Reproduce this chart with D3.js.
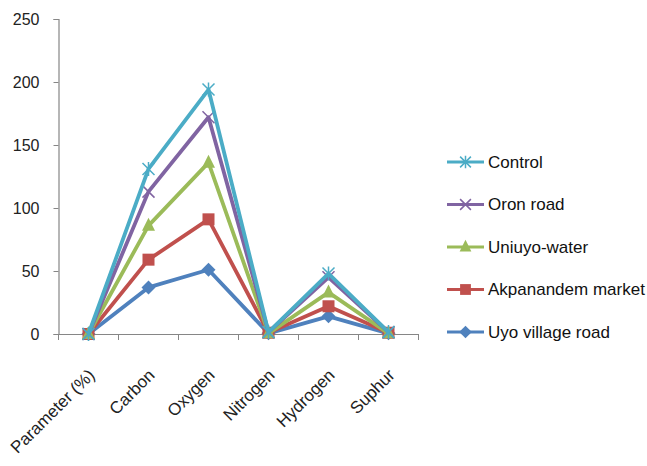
<!DOCTYPE html>
<html><head><meta charset="utf-8">
<script src="https://cdn.jsdelivr.net/npm/d3@7"></script>
<style>body{margin:0;background:#fff;} svg{display:block;font-family:"Liberation Sans",Arial,sans-serif;}</style>
</head><body>
<svg id="c" width="647" height="466"></svg>
<script>
const categories = ["Parameter (%)", "Carbon", "Oxygen", "Nitrogen", "Hydrogen", "Suphur"];
const seriesNames = ["Control", "Oron road", "Uniuyo-water", "Akpanandem market", "Uyo village road"];
const control = [0, 131, 194, 1.5, 48, 1.5];
const oronRoad = [0, 113, 172, 1.5, 45, 1.5];
const uniuyoWater = [0, 86, 136, 0.5, 33, 0.5];
const akpanandem = [0, 59, 91, 1, 22, 1];
const uyoVillage = [0, 37, 51, 0.5, 14, 0.5];
const yTicks = [0, 50, 100, 150, 200, 250];

const series = [
  {name: seriesNames[0], values: control, color: "#4BACC6", marker: "star"},
  {name: seriesNames[1], values: oronRoad, color: "#8064A2", marker: "x"},
  {name: seriesNames[2], values: uniuyoWater, color: "#9BBB59", marker: "triangle"},
  {name: seriesNames[3], values: akpanandem, color: "#C0504D", marker: "square"},
  {name: seriesNames[4], values: uyoVillage, color: "#4F81BD", marker: "diamond"}
];

const svg = d3.select("#c");
const x = d3.scaleBand().domain(categories).range([58.5, 418.5]);
const y = d3.scaleLinear().domain([0, 250]).range([334, 19]);

// y axis
const yAxis = svg.append("g").attr("transform", "translate(58.5,0)")
  .call(d3.axisLeft(y).tickValues(yTicks).tickSize(5).tickPadding(14));
yAxis.select(".domain").attr("stroke", "#868686").attr("stroke-width", 1.2);
yAxis.selectAll(".tick line").attr("stroke", "#868686");
yAxis.selectAll(".tick text").attr("font-size", 16).attr("fill", "#222")
  .attr("font-family", "'Liberation Sans',Arial,sans-serif");

// x axis
const xAxis = svg.append("g").attr("transform", "translate(0,334)")
  .call(d3.axisBottom(x).tickSize(0).tickPadding(0).tickSizeOuter(0));
xAxis.select(".domain").attr("stroke", "#868686").attr("stroke-width", 1.2);
xAxis.selectAll(".tick line").remove();
const bounds = categories.map(c => x(c)).concat([x(categories[categories.length-1]) + x.bandwidth()]);
xAxis.selectAll(".bt").data(bounds).enter().append("line")
  .attr("x1", d => d).attr("x2", d => d).attr("y1", 0).attr("y2", 6)
  .attr("stroke", "#868686").attr("stroke-width", 1);
xAxis.selectAll(".tick text")
  .attr("font-size", 17).attr("fill", "#222")
  .attr("font-family", "'Liberation Sans',Arial,sans-serif")
  .attr("text-anchor", "end")
  .attr("transform", "translate(3,38) rotate(-45)")
  .attr("dy", "0.35em");

const cx = c => x(c) + x.bandwidth() / 2;

function drawMarker(g, type, color, px, py, s) {
  s = s || 1;
  if (type === "square") {
    g.append("rect").attr("x", px - 6*s).attr("y", py - 6*s).attr("width", 12*s).attr("height", 12*s).attr("fill", color);
  } else if (type === "diamond") {
    g.append("path").attr("d", `M${px},${py-7*s}L${px+7*s},${py}L${px},${py+7*s}L${px-7*s},${py}Z`).attr("fill", color);
  } else if (type === "triangle") {
    g.append("path").attr("d", `M${px},${py-8*s}L${px+6.5*s},${py+5*s}L${px-6.5*s},${py+5*s}Z`).attr("fill", color);
  } else if (type === "x") {
    g.append("path").attr("d", `M${px-6*s},${py-6*s}L${px+6*s},${py+6*s}M${px+6*s},${py-6*s}L${px-6*s},${py+6*s}`)
      .attr("stroke", color).attr("stroke-width", 1.5).attr("fill", "none");
  } else if (type === "star") {
    g.append("path").attr("d", `M${px-6*s},${py-6*s}L${px+6*s},${py+6*s}M${px+6*s},${py-6*s}L${px-6*s},${py+6*s}M${px},${py-7*s}L${px},${py+7*s}`)
      .attr("stroke", color).attr("stroke-width", 1.5).attr("fill", "none");
  }
}

const line = d3.line().x((d, i) => cx(categories[i])).y(d => y(d));
const order = series.slice().reverse();
order.forEach(s => {
  const g = svg.append("g");
  g.append("path").datum(s.values).attr("d", line).attr("fill", "none")
    .attr("stroke", s.color).attr("stroke-width", 3.8).attr("stroke-linejoin", "round");
  s.values.forEach((v, i) => drawMarker(g, s.marker, s.color, cx(categories[i]), y(v), 1));
});

// legend
const leg = svg.append("g");
series.forEach((s, i) => {
  const ly = 162 + i * 42.5;
  const g = leg.append("g");
  g.append("line").attr("x1", 447).attr("x2", 484).attr("y1", ly).attr("y2", ly)
    .attr("stroke", s.color).attr("stroke-width", 3);
  drawMarker(g, s.marker, s.color, 465.5, ly, 0.9);
  g.append("text").attr("x", 488).attr("y", ly).attr("dy", "0.35em")
    .attr("font-size", 17).attr("fill", "#111").text(s.name);
});
</script>
</body></html>
